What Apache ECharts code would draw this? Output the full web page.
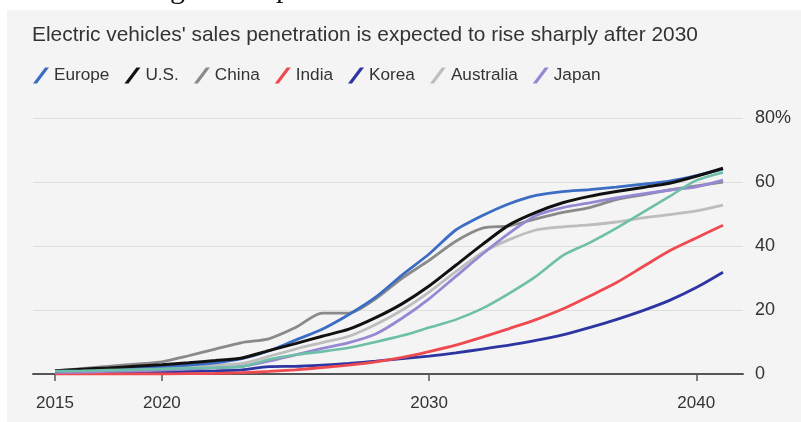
<!DOCTYPE html>
<html>
<head>
<meta charset="utf-8">
<script src="https://cdn.jsdelivr.net/npm/echarts@6/dist/echarts.min.js"></script>
<style>
  html, body { margin: 0; padding: 0; background: #ffffff; }
  #bg { position: absolute; left: 7px; top: 10px; width: 794px; height: 412px; background: #f4f4f4; }
  #chart { position: absolute; left: 0; top: 0; width: 801px; height: 422px; }
</style>
</head>
<body>
<div id="bg"></div>
<div id="chart"></div>
<script>
// ---- data ----
const years = ['2015','2017','2018','2019','2020','2021','2022','2023','2024','2025','2026','2027','2028','2029','2030','2031','2032','2033','2034','2035','2036','2037','2038','2039','2040','2041'];
const tickYears = ['2015','2020','2030','2040'];
const yTicks = [0, 20, 40, 60, 80];

const europe    = [1.0,1.3,1.6,1.9,2.3,2.8,3.5,4.8,7.2,10.6,14.0,18.6,24.0,31.0,37.5,45.0,49.5,53.2,55.8,57.0,57.6,58.4,59.3,60.3,62.0,64.0];
const us        = [1.0,1.5,1.9,2.4,2.9,3.5,4.2,5.0,7.3,9.5,11.8,14.0,17.6,22.0,27.5,34.0,40.5,46.6,50.5,53.5,55.5,57.0,58.3,59.6,61.8,64.3];
const china     = [1.0,1.7,2.4,3.1,3.8,5.7,7.8,9.8,11.0,14.5,19.0,19.0,23.5,30.0,35.5,41.5,45.6,46.3,48.5,50.5,52.0,54.5,56.0,57.5,58.8,60.0];
const india     = [0.0,0.0,0.0,0.0,0.0,0.1,0.2,0.4,0.8,1.3,2.0,2.8,3.8,5.2,7.0,9.0,11.5,14.2,17.0,20.3,24.3,28.5,33.5,38.5,42.5,46.5];
const korea     = [0.3,0.3,0.4,0.5,0.6,0.8,1.0,1.3,2.3,2.4,2.8,3.3,4.0,4.8,5.6,6.6,7.8,9.0,10.5,12.2,14.5,17.0,19.8,23.0,27.0,31.8];
const australia = [0.8,1.0,1.2,1.4,1.7,2.2,2.7,3.3,5.5,7.8,9.8,11.8,15.5,20.0,25.6,32.0,38.0,42.0,45.0,46.0,46.6,47.5,48.8,49.8,51.0,52.8];
const japan     = [0.5,0.6,0.8,1.0,1.2,1.5,1.9,2.4,4.0,6.0,8.0,9.8,12.5,17.5,23.5,30.5,37.5,44.0,49.5,52.0,53.5,55.0,56.3,57.5,58.5,60.6];
const other     = [0.9,1.0,1.2,1.4,1.6,1.8,2.0,2.3,4.5,6.0,7.0,8.2,10.0,12.0,14.5,17.0,20.5,25.2,30.5,37.0,41.0,45.5,50.5,55.5,60.5,63.0];

const legendNames = ['Europe','U.S.','China','India','Korea','Australia','Japan'];

const chart = echarts.init(document.getElementById('chart'), null, { renderer: 'canvas' });
const FONT = '"Liberation Sans", Arial, sans-serif';
const TXT = '#333333';

function line(name, data, color, width) {
  return {
    name: name, type: 'line', xAxisIndex: 0, yAxisIndex: 0,
    data: data, symbol: 'none', smooth: 0.25,
    lineStyle: { color: color, width: width || 2.8 },
    itemStyle: { color: color },
    emphasis: { disabled: true }
  };
}

chart.setOption({
  animation: false,
  backgroundColor: 'transparent',
  textStyle: { fontFamily: FONT },
  title: {
    text: "Electric vehicles' sales penetration is expected to rise sharply after 2030",
    left: 32, top: 25, padding: 0,
    textStyle: { fontFamily: FONT, fontSize: 20.9, fontWeight: 'normal', color: TXT }
  },
  legend: {
    data: legendNames,
    left: 33, top: 67, padding: 0,
    itemWidth: 16, itemHeight: 16, itemGap: 15,
    icon: 'path://M0,16 L12,0 L16,0 L4,16 Z',
    itemStyle: { borderWidth: 0 },
    lineStyle: { width: 0 },
    textStyle: { fontFamily: FONT, fontSize: 17.2, color: TXT, padding: [0, 0, 0, 0] },
    selectedMode: false
  },
  graphic: [
    { type: 'text', left: 170, top: -25, style: { text: 'g', font: '30px "Liberation Serif", serif', fill: '#111' } },
    { type: 'text', left: 276, top: -26, style: { text: 'p', font: '30px "Liberation Serif", serif', fill: '#111' } }
  ],
  grid: [
    { left: 55, right: 78, top: 118, bottom: 48 },
    { left: 33, right: 58, top: 118, bottom: 48 }
  ],
  xAxis: [
    {
      gridIndex: 0, type: 'category', data: years, boundaryGap: false,
      axisLine: { show: false },
      axisTick: {
        show: true, length: 7, lineStyle: { color: '#555', width: 1.5 },
        interval: function (i, v) { return tickYears.indexOf(v) >= 0; }
      },
      axisLabel: {
        show: true, margin: 21, fontSize: 17, color: TXT, fontFamily: FONT,
        interval: function (i, v) { return tickYears.indexOf(v) >= 0; }
      },
      splitLine: { show: false }
    },
    {
      gridIndex: 1, type: 'value', min: 0, max: 1,
      axisLine: { show: true, lineStyle: { color: '#555', width: 2 } },
      axisTick: { show: false }, axisLabel: { show: false }, splitLine: { show: false }
    }
  ],
  yAxis: [
    { gridIndex: 0, type: 'value', min: 0, max: 80, show: false },
    {
      gridIndex: 1, type: 'value', position: 'right', min: yTicks[0], max: yTicks[yTicks.length - 1], interval: 20,
      axisLine: { show: false }, axisTick: { show: false },
      axisLabel: {
        margin: 12, fontSize: 18, color: TXT, fontFamily: FONT,
        formatter: function (v) { return v === 80 ? '80%' : String(v); }
      },
      splitLine: { show: true, lineStyle: { color: '#dedede', width: 1.2 } }
    }
  ],
  series: [
    line('Australia', australia, '#bdbdbd'),
    line('China', china, '#8a8a8a'),
    line('Korea', korea, '#2d35a3'),
    line('India', india, '#ef4a4f'),
    line('Japan', japan, '#9688d2'),
    line('Europe', europe, '#3b6dc5'),
    line('U.S.', us, '#111111', 3),
    line('', other, '#6ebfa8', 2.6)
  ]
});
</script>
</body>
</html>
